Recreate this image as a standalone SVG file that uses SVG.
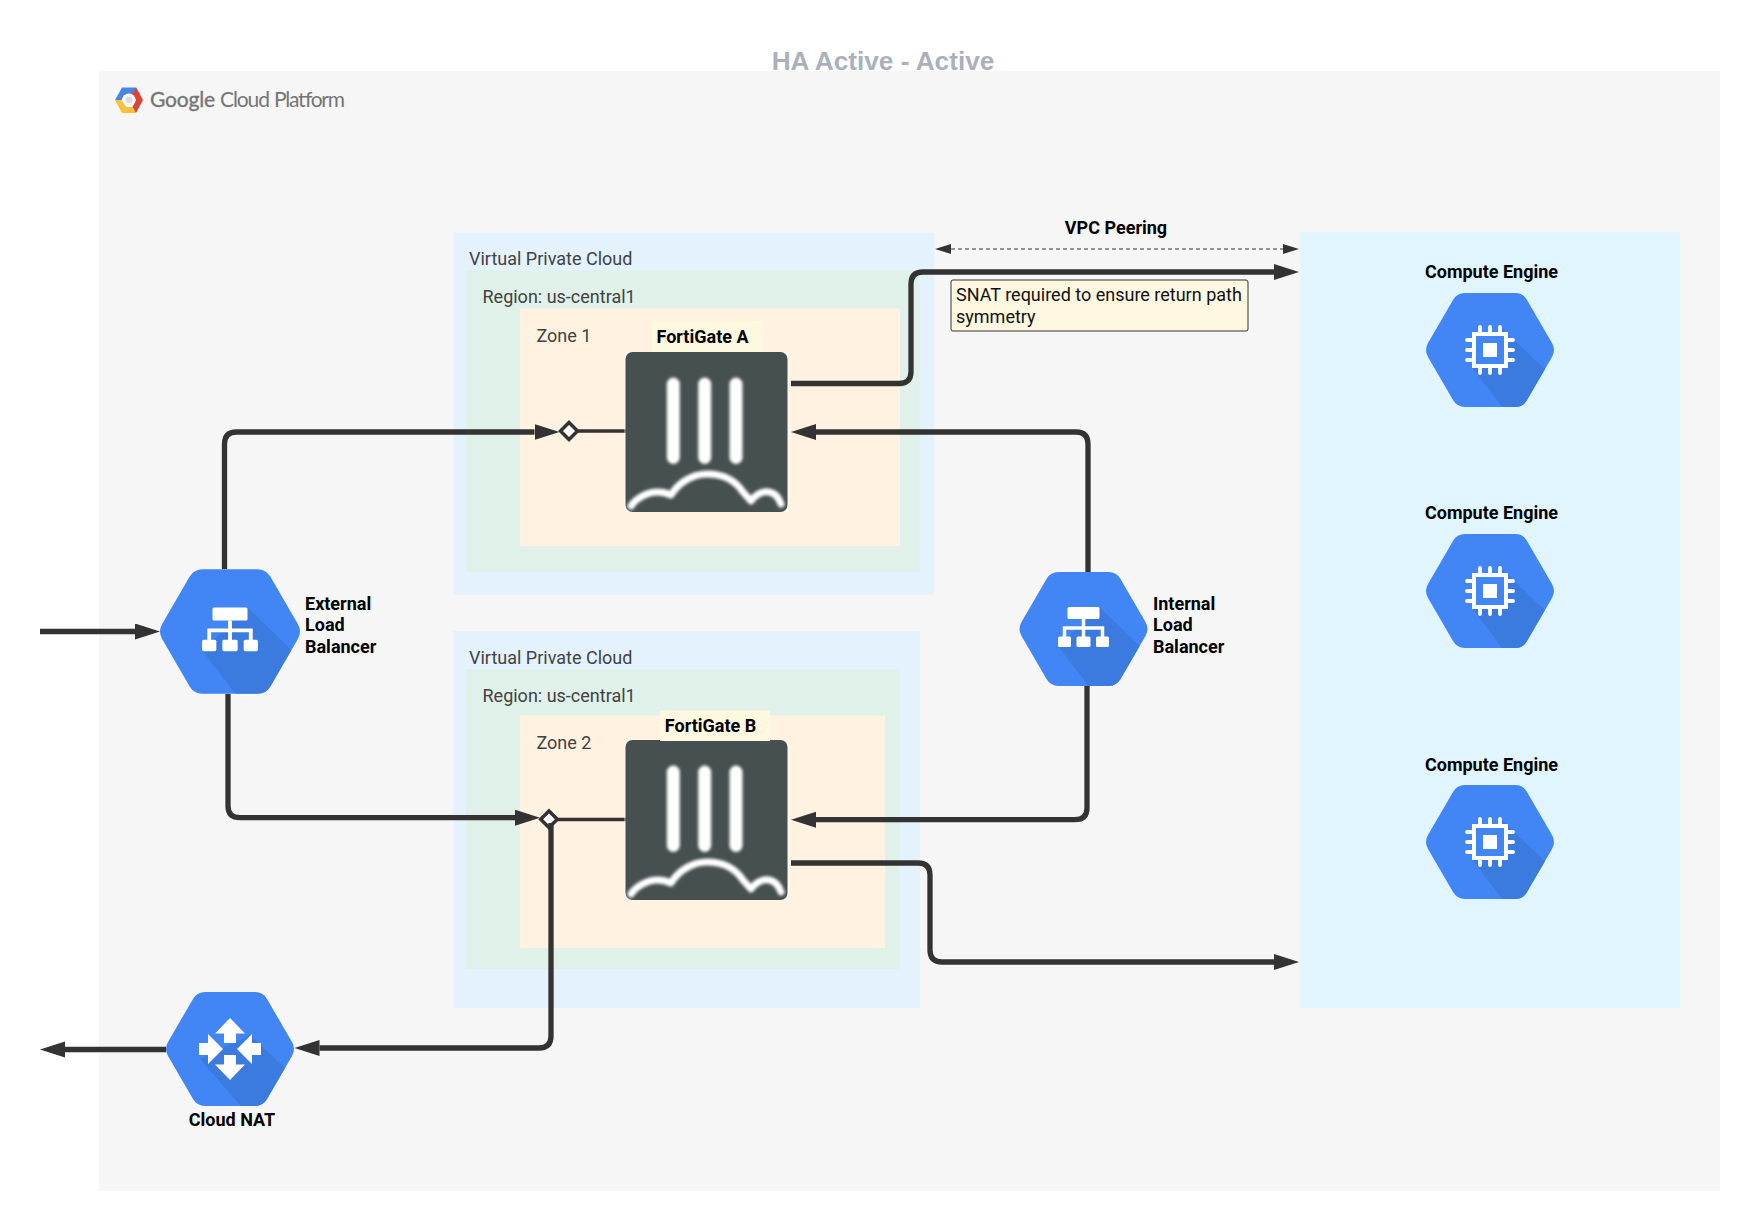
<svg xmlns="http://www.w3.org/2000/svg" xmlns:xlink="http://www.w3.org/1999/xlink" width="1760" height="1232" viewBox="0 0 1760 1232">
<style>
text{font-family:Roboto,"Liberation Sans",sans-serif;font-size:18px;fill:#424242}
.b{font-weight:700;fill:#000}
.m{text-anchor:middle}
.c{fill:none;stroke:#333;stroke-width:5.300;stroke-linejoin:round}
.t{fill:none;stroke:#333;stroke-width:3.300}
.hex{fill:#4285F4}
.sh{fill:#3B7BE0}
.w{fill:#fff}
.vpc{fill:#E3F2FD}
.reg{fill:#DFF1E8}
.zone{fill:#FFF2E0}
.lab{fill:#FFF8E1}
</style>
<defs>
<path id="hexp" d="M-62,-6.9L-37,-50.1Q-33,-57 -25,-57L25,-57Q33,-57 37,-50.1L62,-6.9Q66,0 62,6.9L37,50.1Q33,57 25,57L-25,57Q-33,57 -37,50.1L-62,6.9Q-66,0 -62,-6.9Z"/>
<clipPath id="hexc"><use href="#hexp"/></clipPath>
<filter id="soft" x="-10%" y="-10%" width="120%" height="120%"><feGaussianBlur stdDeviation="1.4"/></filter>
<marker id="ah" markerUnits="userSpaceOnUse" markerWidth="27" markerHeight="18" refX="0" refY="8" orient="auto"><path d="M0,0L25,8L0,16Z" fill="#333"/></marker>
<marker id="ap" markerUnits="userSpaceOnUse" markerWidth="18" markerHeight="12" refX="0" refY="5" orient="auto-start-reverse"><path d="M0,0L16,5L0,10Z" fill="#333"/></marker>
<g id="ce">
<use href="#hexp" class="hex"/>
<path class="sh" clip-path="url(#hexc)" d="M12,-22L70,34V70H22L-18,17Z"/>
<rect x="-16" y="-16" width="32" height="32" fill="#4285F4" stroke="#fff" stroke-width="4"/>
<rect x="-7" y="-7" width="14" height="14" class="w"/>
<path fill="none" stroke="#fff" stroke-width="3.800" stroke-linecap="round" d="M-10,-23V-18M0,-23V-18M10,-23V-18M-10,23V18M0,23V18M10,23V18M-23,-10H-18M-23,0H-18M-23,10H-18M23,-10H18M23,0H18M23,10H18"/>
</g>
<g id="lb">
<use href="#hexp" class="hex"/>
<path class="sh" clip-path="url(#hexc)" d="M16,-22L56,17L70,70H15L-25,17.6Z"/>
<rect x="-16" y="-22" width="32" height="12" rx="1.5" class="w"/>
<rect x="-25.500" y="7.500" width="13" height="10.500" rx="1.500" class="w"/>
<rect x="-7" y="7.500" width="14" height="10.500" rx="1.500" class="w"/>
<rect x="12.500" y="7.500" width="13" height="10.500" rx="1.500" class="w"/>
<path fill="none" stroke="#fff" stroke-width="3.500" d="M0,-10V8M-19,8V-1H19V8"/>
</g>
<g id="fg">
<rect x="1" y="0" width="166" height="160" fill="#fff" opacity=".35"/>
<rect x="2.500" y="0" width="162" height="160" rx="7" fill="#465050"/>
<g filter="url(#soft)">
<path fill="none" stroke="#fff" stroke-width="13" stroke-linecap="round" d="M50.300,32V105.500M81.700,32V105.500M113,32V105.500"/>
<path fill="none" stroke="#fff" stroke-width="7" stroke-linecap="round" stroke-linejoin="round" d="M8,154C14,145 26,140 34,140C40,140 44,141 48,143C56,130 70,122 84,122C100,122 112,128 120,140L128,149C134,141 140,139 146,140C152,141 156,146 158,152"/>
</g>
</g>
</defs>
<rect id="gcp-bg" x="99" y="71" width="1621" height="1120" fill="#F6F6F6"/>
<text x="883" y="70" class="m" style="font-family:'Liberation Sans',Arial,sans-serif;font-size:26.200px;font-weight:700;fill:#ABB1BC">HA Active - Active</text>
<g id="gcp-logo">
<path d="M115,100L122,87.500H136L140,94L131,94.500L124,95L121.500,100Z" fill="#4A86E8"/>
<path d="M115,100L122,113H136L132.500,107H126L121.500,100Z" fill="#F9C23C"/>
<path d="M136,87.500L143,100L136,113L132.500,107L136,100L132,94Z" fill="#DB4437"/>
<circle cx="129" cy="100" r="6.500" fill="#fff"/>
<circle cx="129" cy="100" r="3.500" fill="#DDD"/>
<text x="150" y="107" style="font-family:Lato,Roboto,sans-serif;font-size:21px;fill:#757575"><tspan textLength="65" stroke="#757575" stroke-width=".35">Google</tspan><tspan x="220" textLength="50">Cloud</tspan><tspan x="274" textLength="71">Platform</tspan></text>
</g>
<g id="vpc-a">
<rect x="453.500" y="232.500" width="481" height="362" class="vpc"/>
<text x="469" y="265">Virtual Private Cloud</text>
<rect x="466" y="270.500" width="453.500" height="301.500" class="reg"/>
<text x="482.500" y="303">Region: us-central1</text>
<rect x="520" y="308.500" width="380" height="237.500" class="zone"/>
<text x="536.500" y="342">Zone 1</text>
</g>
<g id="vpc-b">
<rect x="453.500" y="631" width="466.500" height="377" class="vpc"/>
<text x="469" y="664">Virtual Private Cloud</text>
<rect x="466" y="669" width="433.500" height="300" class="reg"/>
<text x="482.500" y="702">Region: us-central1</text>
<rect x="520" y="715.500" width="365" height="232.500" class="zone"/>
<text x="536.500" y="748.500">Zone 2</text>
</g>
<g id="compute-panel"><rect x="1300" y="232" width="380" height="776" fill="#E1F5FE"/></g>
<g id="connectors">
<path class="c" marker-end="url(#ah)" d="M224.500,569V444Q224.500,432 236.500,432H534.500"/>
<path class="c" marker-end="url(#ah)" d="M228,694V806Q228,817.700 240,817.700H515"/>
<path class="c" marker-end="url(#ah)" d="M791,383.500H899Q911,383.500 911,371.500V284Q911,272 923,272H1274"/>
<path class="c" marker-end="url(#ah)" d="M1088,572V444Q1088,432 1076,432H816"/>
<path class="c" marker-end="url(#ah)" d="M1087,686V808Q1087,819.700 1075,819.700H816"/>
<path class="c" marker-end="url(#ah)" d="M791,863H918Q930,863 930,875V950Q930,962 942,962H1274"/>
<path class="c" marker-end="url(#ah)" d="M40,631.500H135"/>
<path class="c" marker-end="url(#ah)" d="M166,1049.500H65"/>
<path fill="none" stroke="#333" stroke-width="1.200" stroke-dasharray="4 3" marker-start="url(#ap)" marker-end="url(#ap)" d="M951,249H1283"/>
<path class="t" d="M578,431H627M557,819.500H627"/>
<path d="M569,422.500L577.500,431L569,439.500L560.500,431Z" fill="#fff" stroke="#333" stroke-width="3.500"/>
<path d="M549,811L557.300,819.300L549,827.600L540.700,819.300Z" fill="#fff" stroke="#333" stroke-width="3.500"/>
<path class="c" marker-end="url(#ah)" d="M551,823V1036Q551,1048 539,1048H319.500"/>
</g>
<text x="1116" y="234" class="b m">VPC Peering</text>
<g id="snat-note">
<rect x="951" y="280" width="297" height="51" rx="2" fill="#FFF8E1" stroke="#333" stroke-width="1"/>
<text x="956" y="301" style="fill:#111">SNAT required to ensure return path</text>
<text x="956" y="323" style="fill:#111">symmetry</text>
</g>
<g id="fortigate-a">
<use href="#fg" x="623" y="352"/>
<rect x="652" y="321" width="110" height="31" class="lab"/>
<text x="702.500" y="343" class="b m">FortiGate A</text>
</g>
<g id="fortigate-b">
<use href="#fg" x="623" y="740"/>
<rect x="660" y="710.500" width="110" height="30.500" class="lab"/>
<text x="710.500" y="732" class="b m">FortiGate B</text>
</g>
<g id="external-lb">
<use href="#lb" transform="translate(230,631.500) scale(1.094)"/>
<text x="305" y="609.500" class="b">External</text>
<text x="305" y="631" class="b">Load</text>
<text x="305" y="652.500" class="b">Balancer</text>
</g>
<g id="internal-lb">
<use href="#lb" transform="translate(1083.500,629)"/>
<text x="1153" y="609.500" class="b">Internal</text>
<text x="1153" y="631" class="b">Load</text>
<text x="1153" y="652.500" class="b">Balancer</text>
</g>
<g id="cloud-nat">
<g transform="translate(230,1049)">
<use href="#hexp" class="hex"/>
<path class="sh" clip-path="url(#hexc)" d="M20,-14L56,20L70,70H22L-30,10Z"/>
<path class="w" d="M0,-31L15,-15.500H6V-6H-6V-15.500H-15ZM0,31L15,15.500H6V6H-6V15.500H-15ZM-31,-6H-22V-15L-7,0L-22,15V6H-31ZM31,-6H22V-15L7,0L22,15V6H31Z"/>
</g>
<text x="232" y="1126" class="b m">Cloud NAT</text>
</g>
<g id="compute-1"><text x="1491.500" y="278" class="b m">Compute Engine</text><use href="#ce" x="1490" y="350"/></g>
<g id="compute-2"><text x="1491.500" y="519" class="b m">Compute Engine</text><use href="#ce" x="1490" y="591"/></g>
<g id="compute-3"><text x="1491.500" y="771" class="b m">Compute Engine</text><use href="#ce" x="1490" y="842"/></g>
</svg>
